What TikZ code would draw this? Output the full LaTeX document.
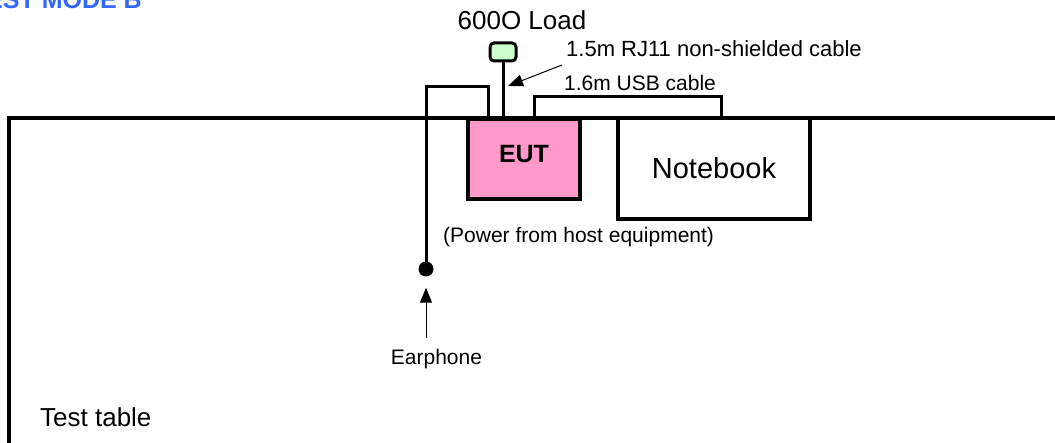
\documentclass[tikz,border=0pt]{standalone}
\usepackage{fontspec}
\setmainfont{Liberation Sans}
\usetikzlibrary{arrows.meta,calc}
\definecolor{eutpink}{HTML}{FF99CC}
\definecolor{loadgreen}{HTML}{CCFFCC}
\definecolor{modeblue}{HTML}{3366FF}
\begin{document}
\begin{tikzpicture}[x=1pt,y=-1pt,
  tableline/.style={line width=4pt},
  boxstyle/.style={draw, line width=3.5pt, rectangle, inner sep=0pt},
  cable/.style={line width=3pt},
  pointer/.style={line width=1pt,-{Triangle[length=15pt,width=12pt]}},
  lbl/.style={inner sep=0pt},
  txtM/.style={font=\fontsize{21}{25}\selectfont},
  txtL/.style={font=\fontsize{22}{26}\selectfont}]
\useasboundingbox (0,0) rectangle (1055,443);
% test table
\draw[tableline] (9,450) -- (9,118) -- (1060,118);
% equipment
\node[boxstyle, fill=eutpink, minimum width=112pt, minimum height=80pt,
  label={[font=\bfseries\fontsize{25}{30}\selectfont, yshift=5pt]center:EUT}] (eut) at (524,159) {};
\node[boxstyle, fill=white, minimum width=192pt, minimum height=101pt,
  font=\fontsize{29}{34}\selectfont] (nb) at (714,168.5) {Notebook};
\node[draw, line width=3pt, fill=loadgreen, rounded corners=4pt, minimum width=26pt,
  minimum height=18pt, inner sep=0pt] (load) at (503,52) {};
\node[circle, fill=black, minimum size=15pt, inner sep=0pt] (jack) at (426,269) {};
% cables
\coordinate (ephtop) at (426,87);
\draw[cable] (jack.center) -- (ephtop) -| ([xshift=-36pt]eut.north);
\draw[cable] ([xshift=10pt]eut.north) -- ++(0,-21) -| ([xshift=7pt]nb.north);
\draw[cable] (load.south) -- (load.south |- eut.north);
% labels
\node[lbl, anchor=base, font=\fontsize{26}{30}\selectfont] (loadlbl) at (522,30) {600O Load};
\node[lbl, txtL, anchor=base west] (rjlbl) at (566,57) {1.5m RJ11 non-shielded cable};
\coordinate (rjtip) at (508,86);
\draw[pointer] ([xshift=-4pt,yshift=-8pt]rjlbl.base west) -- (rjtip);
\node[lbl, txtM, anchor=base west] (usblbl) at (564,90.7) {1.6m USB cable};
\node[lbl, txtM, anchor=base west] (pwr) at (443,243) {(Power from host equipment)};
\node[lbl, txtM, anchor=base] (ear) at (436.5,365) {Earphone};
\draw[pointer] ([yshift=12pt]ear.north -| jack) -- ([yshift=-11pt]jack.south);
\node[lbl, anchor=base west, font=\fontsize{26}{30}\selectfont] (tt) at (40,427) {Test table};
\node[lbl, anchor=base east, font=\bfseries\fontsize{25}{30}\selectfont, text=modeblue] (mode) at (142,9) {TEST MODE B};
\end{tikzpicture}
\end{document}
